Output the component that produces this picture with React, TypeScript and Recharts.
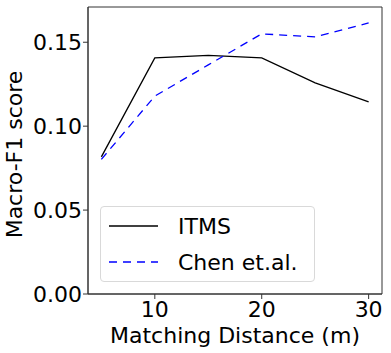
import { LineChart, Line, XAxis, YAxis, ReferenceArea } from 'recharts'

const distances = [5, 10, 15, 20, 25, 30]
const itms = [0.0817, 0.1407, 0.1422, 0.1407, 0.1258, 0.1145]
const chen = [0.0802, 0.1179, 0.1365, 0.155, 0.1532, 0.1615]
const xTicks = [10, 20, 30]
const yTicks = [0, 0.05, 0.1, 0.15]
const seriesNames = ['ITMS', 'Chen et.al.']

const data = distances.map((d, i) => ({ d, itms: itms[i], chen: chen[i] }))

const FONT = '"DejaVu Sans", sans-serif'
const AXIS = '#333'
const X_DOMAIN = [3.75, 31.25]
const Y_DOMAIN = [0, 0.171]

const legendItems = [
  { name: seriesNames[0], color: '#000', dash: undefined },
  { name: seriesNames[1], color: '#0000ff', dash: '8 6' },
]

const LegendBox = () => (
  <div
    style={{
      position: 'absolute',
      left: 100,
      top: 206,
      border: '1px solid #d9d9d9',
      borderRadius: 4,
      background: 'rgba(255,255,255,0.8)',
      width: 215,
      height: 76,
      boxSizing: 'border-box',
      paddingTop: 1,
      fontFamily: FONT,
      fontSize: 22,
    }}
  >
    {legendItems.map((p) => (
      <div key={p.name} style={{ display: 'flex', alignItems: 'center', height: 36 }}>
        <svg width={77} height={10} style={{ marginLeft: 8 }}>
          <line x1={0} y1={5} x2={49} y2={5} stroke={p.color} strokeWidth={1.3} strokeDasharray={p.dash} />
        </svg>
        <span style={{ color: '#000', marginLeft: -8 }}>{p.name}</span>
      </div>
    ))}
  </div>
)

const XLabel = ({ viewBox }: any) => (
  <text x={viewBox.x + viewBox.width / 2} y={343} textAnchor="middle" fill="#000" fontSize={22} fontFamily={FONT}>
    Matching Distance (m)
  </text>
)

const YLabel = ({ viewBox }: any) => {
  const cy = viewBox.y + viewBox.height / 2 + 4
  return (
    <text x={22} y={cy} transform={`rotate(-90 22 ${cy})`} textAnchor="middle" fill="#000" fontSize={22} fontFamily={FONT}>
      Macro-F1 score
    </text>
  )
}

export default function App() {
  return (
    <div style={{ position: 'absolute', left: 0, top: 0, width: 391, height: 353, background: '#fff' }}>
      <LineChart width={391} height={353} data={data} margin={{ top: 7, right: 9, bottom: 0, left: 0 }}>
        <XAxis
          dataKey="d"
          type="number"
          domain={X_DOMAIN}
          ticks={xTicks}
          allowDataOverflow
          stroke={AXIS}
          tickSize={5}
          tickMargin={2}
          height={59}
          tick={{ fill: '#000', fontSize: 22, fontFamily: FONT }}
          label={<XLabel />}
        />
        <YAxis
          type="number"
          domain={Y_DOMAIN}
          ticks={yTicks}
          allowDataOverflow
          stroke={AXIS}
          width={88}
          tickSize={5}
          tickMargin={1}
          tickFormatter={(v: number) => v.toFixed(2)}
          tick={{ fill: '#000', fontSize: 22, fontFamily: FONT }}
          label={<YLabel />}
        />
        <ReferenceArea x1={X_DOMAIN[0]} x2={X_DOMAIN[1]} y1={Y_DOMAIN[0]} y2={Y_DOMAIN[1]} fill="none" stroke={AXIS} strokeWidth={1} ifOverflow="visible" />
        <Line dataKey="itms" name={seriesNames[0]} stroke="#000" strokeWidth={1.3} dot={false} isAnimationActive={false} />
        <Line dataKey="chen" name={seriesNames[1]} stroke="#0000ff" strokeWidth={1.3} strokeDasharray="8 6" dot={false} isAnimationActive={false} />
      </LineChart>
      <LegendBox />
    </div>
  )
}
